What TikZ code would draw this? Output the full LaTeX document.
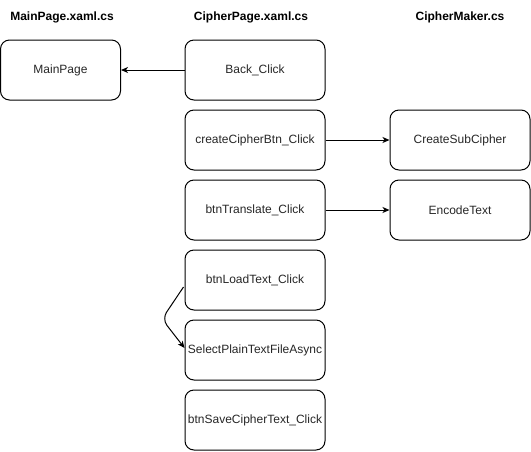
\documentclass[tikz,border=0pt]{standalone}
\usepackage{fontspec}
\setmainfont{Liberation Sans}
\usetikzlibrary{arrows.meta}
\begin{document}
\begin{tikzpicture}[x=1pt,y=-1pt,
  box/.style={draw=black,line width=1pt,rounded corners=9pt,minimum height=60pt,inner sep=0pt,font=\fontsize{12}{14}\selectfont,text=black!85},
  colA/.style={box,minimum width=120pt},
  colB/.style={box,minimum width=140pt},
  hdr/.style={font=\bfseries\fontsize{12}{14}\selectfont,inner sep=0pt},
  arr/.style={draw=black,line width=1pt,-{Stealth[length=7pt,width=6pt,inset=2pt]}}]
\useasboundingbox (0,0) rectangle (531,451);
\node[hdr] (h1) at (62,17) {MainPage.xaml.cs};
\node[hdr] (h2) at (251,17) {CipherPage.xaml.cs};
\node[hdr] (h3) at (460,17) {CipherMaker.cs};
\node[colA] (main) at (60.5,70) {MainPage};
\node[colB] (back) at (255,70) {Back\_Click};
\node[colB] (create) at (255,140) {createCipherBtn\_Click};
\node[colB] (trans) at (255,210) {btnTranslate\_Click};
\node[colB] (load) at (255,280) {btnLoadText\_Click};
\node[colB] (sel) at (255,350) {SelectPlainTextFileAsync};
\node[colB] (save) at (255,420) {btnSaveCipherText\_Click};
\node[colB] (sub) at (460,140) {CreateSubCipher};
\node[colB] (enc) at (460,210) {EncodeText};
\draw[arr] (back) -- (main);
\draw[arr] (create) -- (sub);
\draw[arr] (trans) -- (enc);
\coordinate (w) at (162,319);
\draw[arr,rounded corners=8pt] ([yshift=-7pt,xshift=-1pt]load.west) -- (w) -- ([yshift=2pt]sel.west);
\end{tikzpicture}
\end{document}
